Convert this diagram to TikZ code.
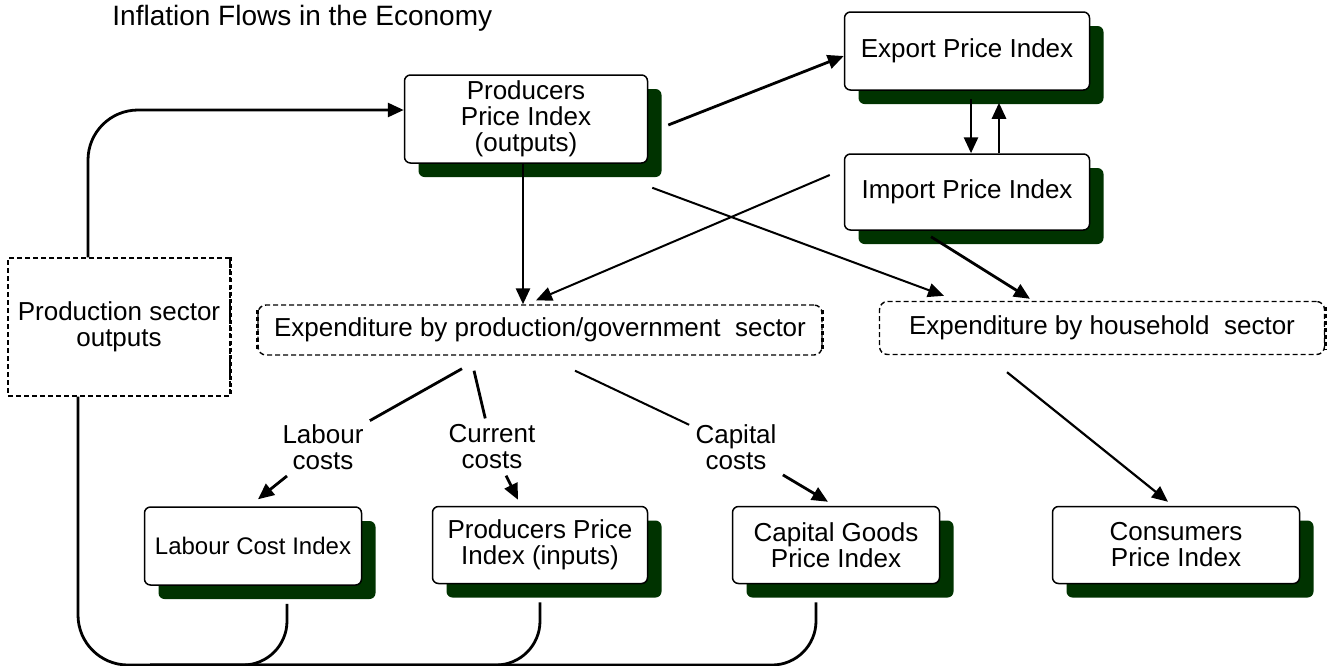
\documentclass[tikz,border=0pt]{standalone}
\usepackage{fontspec}
\setmainfont{Liberation Sans}
\usetikzlibrary{positioning,arrows.meta,shadows}
\definecolor{shadowgreen}{RGB}{0,51,0}

\begin{document}
\begin{tikzpicture}[
    x=0.5pt, y=-0.5pt,
    idx/.style={draw, line width=0.75pt, rounded corners=3pt, fill=white, align=center,
      font=\fontsize{13}{13}\selectfont, inner sep=2pt,
      drop shadow={shadow xshift=7pt, shadow yshift=-7pt, fill=shadowgreen, opacity=1}},
    sector/.style={draw, line width=0.7pt, dash pattern=on 2.5pt off 1.5pt, align=center,
      font=\fontsize{13}{13}\selectfont, inner sep=2pt},
    heavyedge/.style={line width=1.5pt, dash pattern=on 2pt off 1.5pt},
    costlabel/.style={align=center, font=\fontsize{13}{13}\selectfont, inner sep=3pt},
    flow/.style={-{Triangle[length=8pt,width=7pt]}, line width=1.4pt},
    feed/.style={line width=1.4pt}
  ]
  \clip (0,0) rectangle (1331,665);

  \node[anchor=base west, font=\fontsize{14}{16}\selectfont, inner sep=0pt] (title) at (112,25) {Inflation Flows in the Economy};

  % price indices
  \node[idx, minimum width=121.5pt, minimum height=44pt]   (ppi)  at (526,119)  {Producers\\Price Index\\(outputs)};
  \node[idx, minimum width=122.5pt, minimum height=39pt]   (epi)  at (967,51)   {Export Price Index};
  \node[idx, minimum width=122.5pt, minimum height=38pt]   (ipi)  at (967,192)  {Import Price Index};
  \node[idx, minimum width=108.5pt, minimum height=39pt, font=\fontsize{12}{13}\selectfont] (lci) at (253,546) {Labour Cost Index};
  \node[idx, minimum width=107.5pt, minimum height=38.5pt] (ppin) at (540,545)  {Producers Price\\Index (inputs)};
  \node[idx, minimum width=103.5pt, minimum height=38.5pt] (cgpi) at (836,545)  {Capital Goods\\Price Index};
  \node[idx, minimum width=123.5pt, minimum height=38.5pt] (cpi)  at (1176,545) {Consumers\\Price Index};

  % sectors
  \node[sector, minimum width=111pt, minimum height=69pt] (pso) at (119,327) {Production sector\\outputs};
  \node[sector, rounded corners=4pt, minimum width=282pt, minimum height=25pt] (epg) at (540,330) {Expenditure by production/government\ \ sector};
  \node[sector, rounded corners=4pt, minimum width=222.5pt, minimum height=26.5pt] (ehs) at (1102,328) {Expenditure by household\ \ sector};
  \draw[heavyedge] (pso.north east) -- (pso.south east);
  \draw[heavyedge] ([yshift=-3pt]epg.north west) -- ([yshift=3pt]epg.south west);
  \draw[heavyedge] ([yshift=-3pt]epg.north east) -- ([yshift=3pt]epg.south east);
  \draw[heavyedge] ([yshift=-3pt]ehs.north east) -- ([yshift=3pt]ehs.south east);

  \node[costlabel] (labour)  at (323,447) {Labour\\costs};
  \node[costlabel] (current) at (492,447) {Current\\costs};
  \node[costlabel] (capital) at (736,447) {Capital\\costs};

  % feedback loop
  \coordinate (floor) at (150,665);
  \draw[flow, rounded corners=25pt] ([xshift=-15.5pt]pso.north) |- ([yshift=4.5pt]ppi.west);
  \draw[feed, rounded corners=25pt] ([xshift=-20.5pt]pso.south) |- (floor);
  \draw[feed, rounded corners=22pt] ([xshift=17pt,yshift=-9pt]lci.south) |- (floor);
  \draw[feed, rounded corners=22pt] ([yshift=-9pt]ppin.south) |- (floor);
  \draw[feed, rounded corners=22pt] ([xshift=-10pt,yshift=-9pt]cgpi.south) |- (floor);

  % trade
  \draw[flow] ([xshift=10pt,yshift=-3pt]ppi.east) -- ([yshift=-2.5pt]epi.west);
  \draw[flow] ([xshift=2pt,yshift=-4pt]epi.south) -- ([xshift=2pt]ipi.north);
  \draw[flow] ([xshift=16pt]ipi.north) -- ([xshift=16pt,yshift=-6pt]epi.south);

  % expenditure
  \draw[flow] ([xshift=-1.5pt]ppi.south) -- ([xshift=-1.5pt]ppi.south |- epg.north);
  \draw[flow, line width=1pt] ([xshift=-7pt,yshift=8.5pt]ipi.west) -- ([xshift=-2pt,yshift=2pt]epg.north);
  \draw[flow, line width=1pt] ([xshift=2pt,yshift=-12pt]ppi.south east) -- ([xshift=-79pt,yshift=2.5pt]ehs.north);
  \draw[flow] ([xshift=-18pt,yshift=-3pt]ipi.south) -- ([xshift=-36pt,yshift=1pt]ehs.north);
  \draw[flow, line width=1.1pt] ([xshift=-47.5pt,yshift=-8.5pt]ehs.south) -- ([xshift=-4pt,yshift=2pt]cpi.north);

  % costs
  \draw[feed] ([xshift=-39pt,yshift=-6.5pt]epg.south) -- (labour);
  \draw[flow] (labour) -- ([xshift=2.5pt,yshift=3.5pt]lci.north);
  \draw[feed] ([xshift=-33pt,yshift=-7.5pt]epg.south) -- (current);
  \draw[flow] (current) -- ([xshift=-11pt,yshift=3pt]ppin.north);
  \draw[feed, line width=1pt] ([xshift=17.5pt,yshift=-7.5pt]epg.south) -- (capital);
  \draw[flow] (capital) -- ([xshift=-4pt,yshift=2pt]cgpi.north);
\end{tikzpicture}
\end{document}
